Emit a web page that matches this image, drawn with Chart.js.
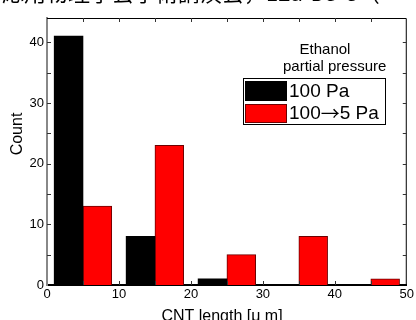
<!DOCTYPE html>
<html>
<head>
<meta charset="utf-8">
<script src="https://cdn.jsdelivr.net/npm/chart.js@4/dist/chart.umd.min.js"></script>
<style>
body { margin: 0; background: #fff; }
canvas { display: block; }
</style>
</head>
<body>
<canvas id="myChart" width="416" height="320"></canvas>
<script>
// each 10 um bin holds two bars: 100 Pa on the left half, 100->5 Pa on the right half
var blackX = [3, 13, 23, 33, 43];
var blackCounts = [41, 8, 1, 0, 0];
var redX = [7, 17, 27, 37, 47];
var redCounts = [13, 23, 5, 8, 1];
var xTicks = [0, 10, 20, 30, 40, 50];
var yTicks = [0, 10, 20, 30, 40];
var legendLabels = ["100 Pa", "100\u21925 Pa"];
var legendTitle = ["Ethanol", "partial pressure"];
var headerText = "応用物理学会学術講演会，12a-D5-8（";

var font = "'Liberation Sans', Arial, sans-serif";

function toPoints(xs, ys) {
	var pts = [];
	for (let i = 0; i < xs.length; i++) {
		pts.push({ x: xs[i], y: ys[i] });
	}
	return pts;
}

// draws text, giving the arrow glyph a wide CJK font like the original
function fillMixed(ctx, text, x, y, size) {
	var parts = text.split("\u2192");
	for (let i = 0; i < parts.length; i++) {
		ctx.font = size + "px " + font;
		ctx.fillText(parts[i], x, y);
		x += ctx.measureText(parts[i]).width;
		if (i < parts.length - 1) {
			ctx.font = size + "px 'Noto Sans CJK JP'";
			ctx.fillText("\u2192", x, y);
			x += ctx.measureText("\u2192").width;
		}
	}
}

var decorations = {
	id: "decorations",
	afterDatasetsDraw(chart) {
		var ctx = chart.ctx;
		var a = chart.chartArea;
		var xs = chart.scales.x;
		var ys = chart.scales.y;
		ctx.save();

		// top and right frame
		ctx.strokeStyle = "#000";
		ctx.lineWidth = 1;
		ctx.beginPath();
		ctx.moveTo(a.left, a.top + 0.5);
		ctx.lineTo(a.right - 0.5, a.top + 0.5);
		ctx.lineTo(a.right - 0.5, a.bottom);
		ctx.stroke();

		// inward ticks every 5
		ctx.strokeStyle = "#333";
		ctx.beginPath();
		for (let v = 5; v < 50; v += 5) {
			let px = Math.round(xs.getPixelForValue(v)) + 0.5;
			ctx.moveTo(px, a.top);
			ctx.lineTo(px, a.top + 4);
			ctx.moveTo(px, a.bottom);
			ctx.lineTo(px, a.bottom - 4);
		}
		for (let v = 5; v < 44; v += 5) {
			let py = Math.round(ys.getPixelForValue(v)) + 0.5;
			ctx.moveTo(a.left, py);
			ctx.lineTo(a.left + 4, py);
			ctx.moveTo(a.right, py);
			ctx.lineTo(a.right - 4, py);
		}
		ctx.stroke();
		ctx.restore();
	},
	afterDraw(chart) {
		var ctx = chart.ctx;
		var ds = chart.data.datasets;
		ctx.save();
		ctx.fillStyle = "#000";

		// cut off header line
		ctx.font = "22px 'Noto Sans CJK JP'";
		ctx.textAlign = "left";
		ctx.textBaseline = "alphabetic";
		ctx.fillText(headerText, 2, 1);

		// axis titles
		ctx.font = "16px " + font;
		ctx.textAlign = "center";
		ctx.fillText("CNT length [\u03bc m]", 222, 321);
		ctx.save();
		ctx.translate(18, 134);
		ctx.rotate(-Math.PI / 2);
		ctx.textBaseline = "middle";
		ctx.fillText("Count", 0, 0);
		ctx.restore();

		// legend
		ctx.font = "15px " + font;
		ctx.textBaseline = "middle";
		ctx.textAlign = "center";
		ctx.fillText(legendTitle[0], 325, 50);
		ctx.textAlign = "left";
		ctx.fillText(legendTitle[1], 283, 67);

		ctx.strokeStyle = "#000";
		ctx.lineWidth = 1;
		ctx.strokeRect(243.5, 78.5, 142, 46);
		ctx.fillStyle = ds[0].backgroundColor;
		ctx.fillRect(245, 81, 42, 20);
		ctx.fillStyle = ds[1].backgroundColor;
		ctx.fillRect(245, 104, 42, 19);
		ctx.strokeStyle = ds[1].borderColor;
		ctx.strokeRect(245.5, 104.5, 41, 18);

		ctx.fillStyle = "#000";
		fillMixed(ctx, legendLabels[0], 289, 92, 19);
		fillMixed(ctx, legendLabels[1], 289, 114, 19);
		ctx.restore();
	}
};

var ctx = document.querySelector("#myChart").getContext("2d");
var histChart = new Chart(ctx, {
	type: "bar",
	data: {
		datasets: [
			{
				label: legendLabels[0],
				data: toPoints(blackX, blackCounts),
				backgroundColor: "#000000",
				borderWidth: 0,
				grouped: false,
				barPercentage: 1,
				categoryPercentage: 1,
			},
			{
				label: legendLabels[1],
				data: toPoints(redX, redCounts),
				backgroundColor: "#ff0000",
				borderColor: "#6e0000",
				borderWidth: 1,
				grouped: false,
				barPercentage: 1,
				categoryPercentage: 1,
			},
		],
	},
	options: {
		responsive: false,
		animation: false,
		layout: { padding: { top: 18, right: 8, left: 0, bottom: 0 } },
		plugins: {
			legend: { display: false },
			tooltip: { enabled: false },
		},
		scales: {
			x: {
				type: "linear",
				offset: false,
				min: 0,
				max: 50,
				afterBuildTicks: (s) => {
					s.ticks = xTicks.map((v) => ({ value: v }));
				},
				afterFit: (s) => {
					s.height = 35;
				},
				grid: { display: false, drawTicks: false, offset: false },
				border: { color: "#000", width: 2 },
				ticks: {
					color: "#000",
					font: { family: font, size: 13 },
					padding: 2,
					maxRotation: 0,
					autoSkip: false,
				},
			},
			y: {
				min: 0,
				max: 44,
				afterBuildTicks: (s) => {
					s.ticks = yTicks.map((v) => ({ value: v }));
				},
				afterFit: (s) => {
					s.width = 47;
				},
				grid: { display: false, drawTicks: false },
				border: { color: "#888", width: 2 },
				ticks: {
					color: "#000",
					font: { family: font, size: 13 },
					padding: 3,
				},
			},
		},
	},
	plugins: [decorations],
});
</script>
</body>
</html>
